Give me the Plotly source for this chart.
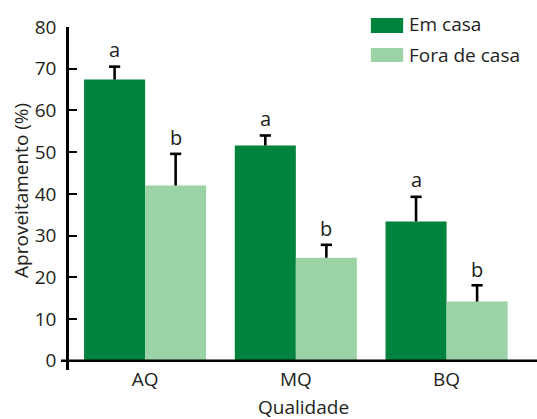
import plotly.graph_objects as go

categories = ["AQ", "MQ", "BQ"]
em_casa = [67.4, 51.6, 33.4]
em_casa_err = [3.1, 2.4, 5.9]
fora_casa = [42.0, 24.7, 14.2]
fora_casa_err = [7.6, 3.1, 3.9]
em_letters = ["a", "a", "a"]
fora_letters = ["b", "b", "b"]
y_ticks = [0, 10, 20, 30, 40, 50, 60, 70, 80]

DARK = "rgb(0,132,61)"
LIGHT = "rgb(155,211,166)"
FONT = "Open Sans"
TXT = "#231f20"
BARGAP = 0.19

xpos = list(range(len(categories)))
half = (1 - BARGAP) / 4  # offset of each bar centre from the category centre

fig = go.Figure()
fig.add_trace(go.Bar(x=xpos, y=em_casa, name="Em casa",
                     marker=dict(color=DARK, line=dict(width=0))))
fig.add_trace(go.Bar(x=xpos, y=fora_casa, name="Fora de casa",
                     marker=dict(color=LIGHT, line=dict(width=0))))

# upward-only error bars (stem + cap)
for vals, errs, sign in [(em_casa, em_casa_err, -1), (fora_casa, fora_casa_err, 1)]:
    xs, ys = [], []
    for i, (v, e) in enumerate(zip(vals, errs)):
        xs += [i + sign * half, i + sign * half, None]
        ys += [v, v + e, None]
    fig.add_trace(go.Scatter(x=xs, y=ys, mode="lines", line=dict(color="black", width=2.6),
                             hoverinfo="skip", showlegend=False))
    fig.add_trace(go.Scatter(x=[i + sign * half for i in xpos], y=[v + e for v, e in zip(vals, errs)],
                             mode="markers", marker=dict(symbol="line-ew", size=8,
                                                         line=dict(color="black", width=2.6)),
                             hoverinfo="skip", showlegend=False))

annotations = []
# significance letters above the error bars
for i in xpos:
    annotations.append(dict(x=i - half, xref="x", y=em_casa[i] + em_casa_err[i], yref="y",
                            text=em_letters[i], showarrow=False, yshift=17,
                            yanchor="middle", font=dict(family=FONT, size=20, color=TXT)))
    annotations.append(dict(x=i + half, xref="x", y=fora_casa[i] + fora_casa_err[i], yref="y",
                            text=fora_letters[i], showarrow=False, yshift=16,
                            yanchor="middle", font=dict(family=FONT, size=20, color=TXT)))

# axis titles
annotations.append(dict(x=-0.1026, xref="paper", y=0.525, yref="paper", text="Aproveitamento (%)",
                        textangle=-90, showarrow=False, xanchor="center", yanchor="middle",
                        font=dict(family=FONT, size=19, color=TXT)))
annotations.append(dict(x=0.5, xref="paper", y=-0.107, yref="paper", text="Qualidade",
                        showarrow=False, xanchor="center", yanchor="middle",
                        font=dict(family=FONT, size=19, color=TXT)))

# custom legend
legend_items = [("Em casa", DARK, 0.9825, 1.026, 1.009), ("Fora de casa", LIGHT, 0.898, 0.939, 0.918)]
shapes = []
for name, col, y0, y1, yt in legend_items:
    shapes.append(dict(type="rect", xref="paper", yref="paper", x0=0.645, x1=0.714, y0=y0, y1=y1,
                       fillcolor=col, line=dict(width=0)))
    annotations.append(dict(x=0.722, xref="paper", y=yt, yref="paper", text=name, showarrow=False,
                            xanchor="left", yanchor="middle", font=dict(family=FONT, size=19, color=TXT)))

# x axis line at y = 0, extending slightly left of the y axis
shapes.append(dict(type="line", xref="paper", yref="y", x0=-8/468, x1=1, y0=0, y1=0,
                   line=dict(color="black", width=2.6), layer="above"))

fig.update_layout(
    width=537, height=419,
    margin=dict(l=69, r=0, t=27, b=49),
    paper_bgcolor="white", plot_bgcolor="white",
    barmode="group", bargap=BARGAP, bargroupgap=0,
    showlegend=False,
    annotations=annotations, shapes=shapes,
    font=dict(family=FONT, size=19, color=TXT),
    xaxis=dict(range=[-0.505, 2.6], tickvals=xpos, ticktext=categories,
               showline=False, showgrid=False, zeroline=False,
               ticks="", tickfont=dict(family=FONT, size=19, color=TXT), ticklabelstandoff=-4),
    yaxis=dict(range=[-2.2, 80], tickvals=y_ticks, showline=True, linecolor="black", linewidth=2.6,
               ticks="inside", ticklen=8, tickwidth=2.4, tickcolor="black",
               showgrid=False, zeroline=False, ticklabelstandoff=6,
               tickfont=dict(family=FONT, size=19, color=TXT)),
)

fig.write_html("out.html", config={"displayModeBar": False},
               post_script="document.body.style.margin='0px';document.body.style.padding='0px';")
